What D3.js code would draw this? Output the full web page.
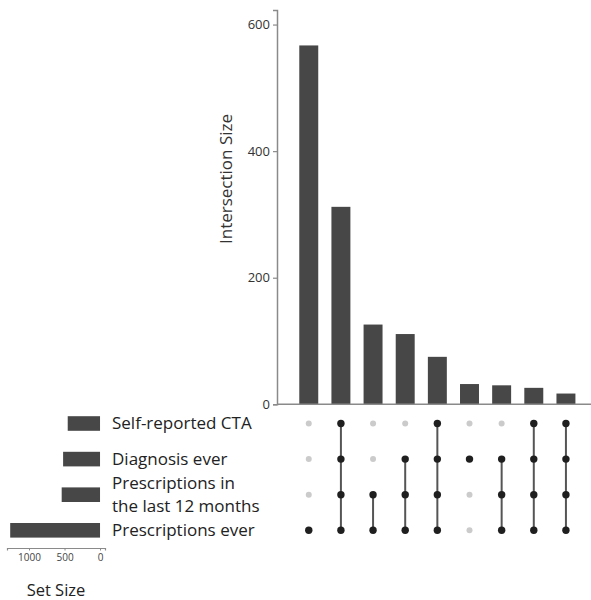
<!DOCTYPE html>
<html>
<head>
<meta charset="utf-8">
<script src="https://cdn.jsdelivr.net/npm/d3@7"></script>
<style>
  html, body { margin: 0; padding: 0; background: #fff; }
  svg { display: block; font-family: "Open Sans", "DejaVu Sans", sans-serif; }
</style>
</head>
<body>
<svg id="chart" width="591" height="600"></svg>
<script>
// ---- data ----
const sets = ["Self-reported CTA", "Diagnosis ever", "Prescriptions in the last 12 months", "Prescriptions ever"];
const setLabels = [["Self-reported CTA"], ["Diagnosis ever"], ["Prescriptions in", "the last 12 months"], ["Prescriptions ever"]];
const setSizes = [455, 520, 540, 1265];
const intersectionSizes = [567, 312, 126, 111, 75, 32, 30, 26, 17];
// membership per intersection: indices into sets
const intersectionMembers = [
  [3],
  [0, 1, 2, 3],
  [2, 3],
  [1, 2, 3],
  [0, 1, 2, 3],
  [1],
  [1, 2, 3],
  [0, 1, 2, 3],
  [0, 1, 2, 3]
];
const yTicks = [0, 200, 400, 600];
const setTicks = [1000, 500, 0];

// ---- drawing ----
const svg = d3.select("#chart");
const barColor = "#474747";
const axisColor = "#8a8a8a";
const textColor = "#333";

const idx = d3.range(intersectionSizes.length);
const x = d3.scaleBand().domain(idx).range([286.1, 588.6]).padding(0.41);
const y = d3.scaleLinear().domain([0, 623]).range([404.3, 10]);
const rowY = d3.scalePoint().domain(d3.range(sets.length)).range([423.5, 530.3]);
const sx = d3.scaleLinear().domain([-70, 1310]).range([105, 7]);

// intersection bars
svg.append("g").selectAll("rect").data(idx).join("rect")
  .attr("x", i => x(i))
  .attr("width", x.bandwidth())
  .attr("y", i => y(intersectionSizes[i]))
  .attr("height", i => y(0) - y(intersectionSizes[i]))
  .attr("fill", barColor);

// y axis
const yAxis = svg.append("g").attr("transform", "translate(277,0)")
  .call(d3.axisLeft(y).tickValues(yTicks).tickSize(4).tickPadding(3));
yAxis.select(".domain").attr("stroke", axisColor).attr("stroke-width", 1.5);
yAxis.selectAll(".tick line").attr("stroke", axisColor).attr("stroke-width", 1.2);
yAxis.selectAll(".tick text").attr("fill", textColor).style("font-size", "13px")
  .style("font-family", "'Open Sans', sans-serif");

// bottom baseline
svg.append("line")
  .attr("x1", 277).attr("x2", 591)
  .attr("y1", y(0)).attr("y2", y(0))
  .attr("stroke", axisColor).attr("stroke-width", 1.5);

// y title
svg.append("text")
  .attr("transform", "translate(232,179) rotate(-90)")
  .attr("text-anchor", "middle")
  .attr("fill", textColor)
  .style("font-size", "17px")
  .text("Intersection Size");

// matrix: empty dots
const cells = [];
idx.forEach(i => sets.forEach((s, r) => cells.push({ i, r, on: intersectionMembers[i].includes(r) })));
svg.append("g").selectAll("circle.off").data(cells.filter(c => !c.on)).join("circle")
  .attr("cx", c => x(c.i) + x.bandwidth() / 2)
  .attr("cy", c => rowY(c.r))
  .attr("r", 3)
  .attr("fill", "#cbcbcb");

// connecting lines
svg.append("g").selectAll("line").data(idx.filter(i => intersectionMembers[i].length > 1)).join("line")
  .attr("x1", i => x(i) + x.bandwidth() / 2)
  .attr("x2", i => x(i) + x.bandwidth() / 2)
  .attr("y1", i => rowY(d3.min(intersectionMembers[i])))
  .attr("y2", i => rowY(d3.max(intersectionMembers[i])))
  .attr("stroke", "#555")
  .attr("stroke-width", 2);

svg.append("g").selectAll("circle.on").data(cells.filter(c => c.on)).join("circle")
  .attr("cx", c => x(c.i) + x.bandwidth() / 2)
  .attr("cy", c => rowY(c.r))
  .attr("r", 3.7)
  .attr("fill", "#1f1f1f");

// set size bars
svg.append("g").selectAll("rect").data(d3.range(sets.length)).join("rect")
  .attr("x", r => sx(setSizes[r]))
  .attr("width", r => sx(0) - sx(setSizes[r]))
  .attr("y", r => rowY(r) - 7.3)
  .attr("height", 14.6)
  .attr("fill", barColor);

// set size axis
const sAxis = svg.append("g").attr("transform", "translate(0,548)")
  .call(d3.axisBottom(sx).tickValues(setTicks).tickFormat(d3.format("d")).tickSize(2.5).tickPadding(3));
sAxis.select(".domain").attr("stroke", axisColor).attr("stroke-width", 1.2);
sAxis.selectAll(".tick line").attr("stroke", axisColor);
sAxis.selectAll(".tick text").attr("fill", "#444").style("font-size", "10px")
  .style("font-family", "'Open Sans', sans-serif");

svg.append("text")
  .attr("x", 56).attr("y", 596)
  .attr("text-anchor", "middle")
  .attr("fill", "#222")
  .style("font-size", "16.5px")
  .text("Set Size");

// set labels
const lab = svg.append("g").selectAll("text").data(d3.range(sets.length)).join("text")
  .attr("x", 112)
  .attr("fill", "#222")
  .style("font-size", "17px");
lab.each(function (r) {
  const lines = setLabels[r];
  const lh = 23;
  const t = d3.select(this);
  lines.forEach((ln, k) => {
    t.append("tspan")
      .attr("x", 112)
      .attr("y", rowY(r) + (k - (lines.length - 1) / 2) * lh)
      .attr("dy", "0.35em")
      .text(ln);
  });
});
</script>
</body>
</html>
